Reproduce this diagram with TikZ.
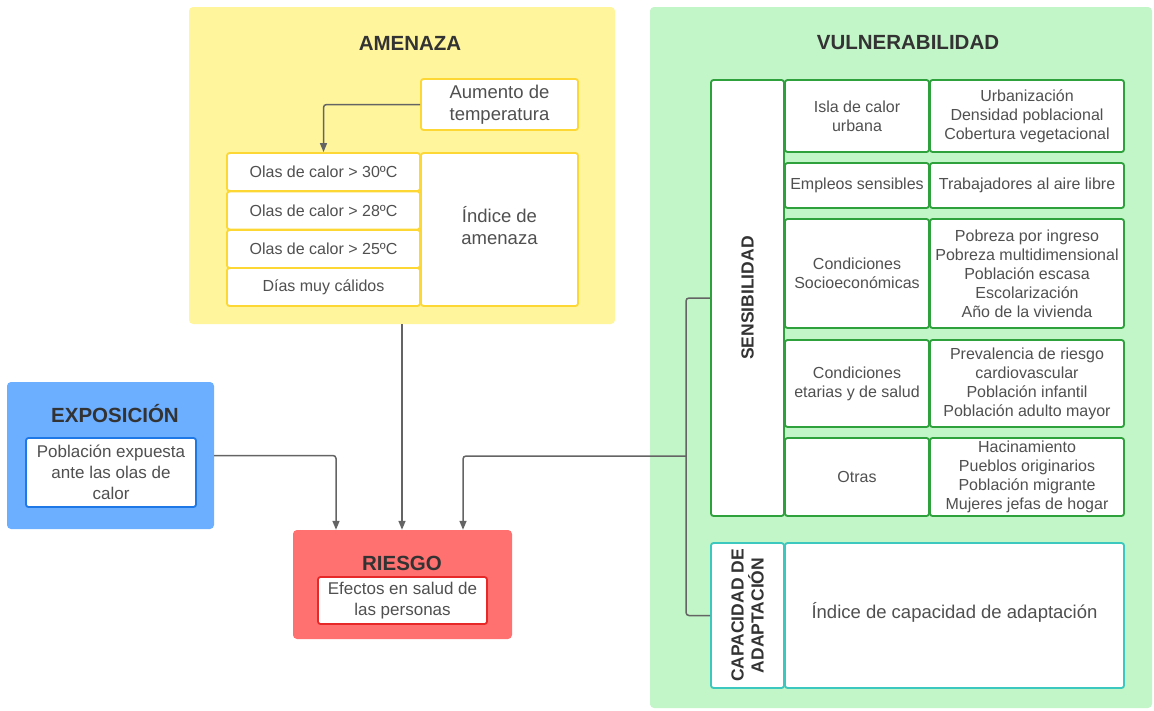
\documentclass[tikz,border=0pt]{standalone}
\usepackage{fontspec}
\setmainfont{Liberation Sans}
\usetikzlibrary{arrows.meta,positioning}
\definecolor{ameyellow}{RGB}{255,245,157}
\definecolor{ameline}{RGB}{253,216,53}
\definecolor{expblue}{RGB}{108,174,255}
\definecolor{expline}{RGB}{30,120,230}
\definecolor{riered}{RGB}{255,112,112}
\definecolor{rieline}{RGB}{230,40,40}
\definecolor{vulgreen}{RGB}{194,245,199}
\definecolor{sensline}{RGB}{46,160,60}
\definecolor{capline}{RGB}{60,200,190}
\definecolor{ttlgray}{RGB}{51,51,51}
\definecolor{txtgray}{RGB}{80,80,80}
\definecolor{conngray}{RGB}{100,100,100}

\begin{document}
\begin{tikzpicture}[x=1pt,y=-1pt,
    panel/.style={rounded corners=4pt, inner sep=0pt},
    ttl/.style={font=\bfseries\fontsize{20.5}{24}\selectfont, text=ttlgray},
    vttl/.style={font=\bfseries\fontsize{17.5}{20}\selectfont, text=ttlgray, rotate=90, align=center},
    cell/.style={fill=white, rounded corners=2.5pt, line width=1.8pt, align=center, text=txtgray, inner sep=0pt, font=\fontsize{16}{19}\selectfont},
    bigtext/.style={font=\fontsize{18.5}{22.5}\selectfont},
    midtext/.style={font=\fontsize{17}{21}\selectfont},
    amecell/.style={cell, draw=ameline},
    senscell/.style={cell, draw=sensline},
    conn/.style={draw=conngray, line width=1.5pt, rounded corners=3pt},
    flecha/.style={conn, -{Triangle[length=9pt,width=7pt]}}]
    \useasboundingbox (0,0) rectangle (1154,710);

    % amenaza
    \node[panel, fill=ameyellow, minimum width=426pt, minimum height=317pt] (amenaza) at (402,165.5) {};
    \node[ttl] (ametitle) at (410,43) {AMENAZA};
    \node[amecell, bigtext, minimum width=157pt, minimum height=51pt] (aumento) at (499.5,104.5) {Aumento de\\temperatura};
    \node[amecell, minimum width=193pt, minimum height=38pt] (ola30) at (323.5,172) {Olas de calor > 30ºC};
    \node[amecell, minimum width=193pt, minimum height=38pt] (ola28) at (323.5,210.5) {Olas de calor > 28ºC};
    \node[amecell, minimum width=193pt, minimum height=38pt] (ola25) at (323.5,249) {Olas de calor > 25ºC};
    \node[amecell, minimum width=193pt, minimum height=38pt] (calidos) at (323.5,287) {Días muy cálidos};
    \node[amecell, bigtext, text depth=8pt, minimum width=157pt, minimum height=153pt] (indame) at (499.5,229.5) {Índice de\\amenaza};

    % exposicion
    \node[panel, fill=expblue, minimum width=207pt, minimum height=147pt] (exposicion) at (110.5,455.5) {};
    \node[ttl] (exptitle) at (115,414) {EXPOSICIÓN};
    \node[cell, midtext, draw=expline, minimum width=170pt, minimum height=69pt] (poblacion) at (111,472.5) {Población expuesta\\ante las olas de\\calor};

    % riesgo
    \node[panel, fill=riered, minimum width=219pt, minimum height=109pt] (riesgo) at (402.5,584.5) {};
    \node[ttl] (rietitle) at (402,563) {RIESGO};
    \node[cell, midtext, draw=rieline, minimum width=169pt, minimum height=47pt] (efectos) at (402.5,600.5) {Efectos en salud de\\las personas};

    % vulnerabilidad
    \node[panel, fill=vulgreen, minimum width=502pt, minimum height=701pt] (vulnerabilidad) at (901,357.5) {};
    \node[ttl] (vultitle) at (908,43) {VULNERABILIDAD};
    \node[senscell, minimum width=73pt, minimum height=436pt] (sens) at (747.5,298) {};
    \node[vttl] (senstitle) at (sens.center) {SENSIBILIDAD};
    \node[senscell, minimum width=144pt, minimum height=72pt] (isla) at (857,116) {Isla de calor\\urbana};
    \node[senscell, minimum width=194pt, minimum height=72pt] (islaval) at (1027,116) {Urbanización\\Densidad poblacional\\Cobertura vegetacional};
    \node[senscell, minimum width=144pt, minimum height=45pt] (empleos) at (857,185.5) {Empleos sensibles};
    \node[senscell, minimum width=194pt, minimum height=45pt] (empleosval) at (1027,185.5) {Trabajadores al aire libre};
    \node[senscell, minimum width=144pt, minimum height=109pt] (socio) at (857,273.5) {Condiciones\\Socioeconómicas};
    \node[senscell, minimum width=194pt, minimum height=109pt] (socioval) at (1027,273.5) {Pobreza por ingreso\\Pobreza multidimensional\\Población escasa\\Escolarización\\Año de la vivienda};
    \node[senscell, minimum width=144pt, minimum height=87pt] (salud) at (857,383.5) {Condiciones\\etarias y de salud};
    \node[senscell, minimum width=194pt, minimum height=87pt] (saludval) at (1027,383.5) {Prevalencia de riesgo\\cardiovascular\\Población infantil\\Población adulto mayor};
    \node[senscell, minimum width=144pt, minimum height=78pt] (otras) at (857,477) {Otras};
    \node[senscell, minimum width=194pt, minimum height=78pt] (otrasval) at (1027,477) {Hacinamiento\\Pueblos originarios\\Población migrante\\Mujeres jefas de hogar};
    \node[cell, draw=capline, minimum width=73pt, minimum height=145pt] (cap) at (747.5,615.5) {};
    \node[vttl] (captitle) at (cap.center) {CAPACIDAD DE\\ADAPTACIÓN};
    \node[cell, bigtext, text depth=10pt, draw=capline, minimum width=339pt, minimum height=145pt] (indcap) at (954.5,615.5) {Índice de capacidad de adaptación};

    % conectores
    \coordinate (vjoin) at (686,456);
    \draw[flecha] (aumento.west) -| (ola30.north);
    \draw[flecha] (amenaza.south) -- (amenaza.south |- riesgo.north);
    \draw[flecha] (exposicion.east) -| ([xshift=-66.5pt]riesgo.north);
    \draw[conn] (sens.west) -| (vjoin) |- (cap.west);
    \draw[flecha] (vjoin) -| ([xshift=60.5pt]riesgo.north);
  \end{tikzpicture}
\end{document}
